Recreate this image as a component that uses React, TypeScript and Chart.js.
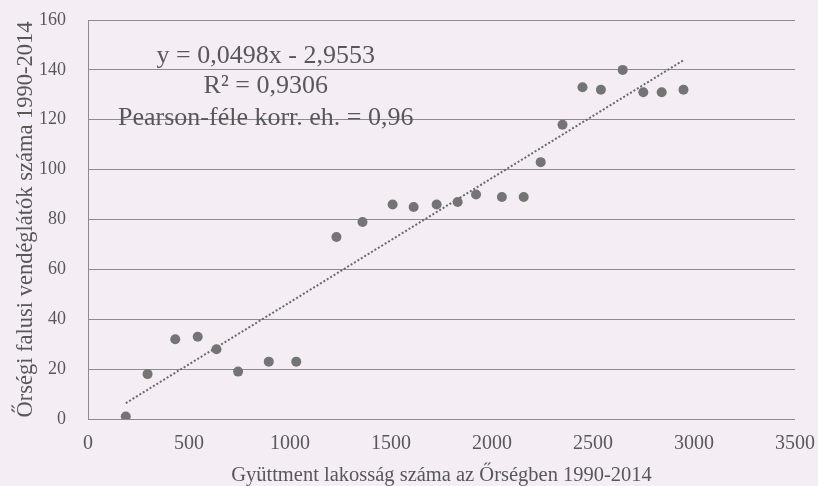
import React, { useEffect, useRef } from "react";
import { Chart, registerables } from "chart.js";

Chart.register(...registerables);

// Data (x: incoming population, y: rural hosts)
const xValues = [187, 295, 432, 543, 636, 743, 895, 1031, 1230, 1359, 1508, 1612, 1726, 1830, 1921, 2049, 2157, 2241, 2349, 2448, 2539, 2647, 2749, 2840, 2948];
const yValues = [1, 18, 32, 33, 28, 19, 23, 23, 73, 79, 86, 85, 86, 87, 90, 89, 89, 103, 118, 133, 132, 140, 131, 131, 132];

// Linear trend as printed on the chart
const TREND_SLOPE = 0.0498;
const TREND_INTERCEPT = -2.9553;

const xTicks = [0, 500, 1000, 1500, 2000, 2500, 3000, 3500];
const yTicks = [0, 20, 40, 60, 80, 100, 120, 140, 160];

const annotationLines = ["y = 0,0498x - 2,9553", "R² = 0,9306", "Pearson-féle korr. eh. = 0,96"];
const annotationX = 880;
const annotationY = [145.5, 133.5, 120.5];

const xTitle = "Gyüttment lakosság száma az Őrségben 1990-2014";
const yTitle = "Őrségi falusi vendéglátók száma 1990-2014";

const BG = "#f4eef4";
const TEXT = "#585858";
const GRID = "#8c8c8c";
const SERIF = "'Liberation Serif', 'DejaVu Serif', serif";

export default function App() {
  const ref = useRef<HTMLCanvasElement | null>(null);

  useEffect(() => {
    document.body.style.margin = "0";
    document.body.style.background = BG;
    const canvas = ref.current;
    if (!canvas) return;

    const trendX = [Math.min(...xValues), Math.max(...xValues)];
    const trendData = trendX.map((x) => ({ x, y: TREND_SLOPE * x + TREND_INTERCEPT }));

    const bgPlugin = {
      id: "bg",
      beforeDraw(chart: any) {
        const c = chart.ctx;
        c.save();
        c.fillStyle = BG;
        c.fillRect(0, 0, chart.width, chart.height);
        c.restore();
      },
    };

    const annotationPlugin = {
      id: "annot",
      afterDatasetsDraw(chart: any) {
        const c = chart.ctx;
        const xs = chart.scales.x;
        const ys = chart.scales.y;
        c.save();
        c.fillStyle = TEXT;
        c.font = `26px ${SERIF}`;
        c.textAlign = "center";
        c.textBaseline = "middle";
        annotationLines.forEach((t, i) => {
          c.fillText(t, xs.getPixelForValue(annotationX), ys.getPixelForValue(annotationY[i]));
        });
        c.restore();
      },
    };

    const chart = new Chart(canvas, {
      type: "scatter",
      data: {
        datasets: [
          {
            label: "trend",
            type: "line",
            data: trendData,
            borderColor: "#6a6a6a",
            borderWidth: 2,
            borderDash: [2, 2],
            pointRadius: 0,
            fill: false,
            order: 2,
          } as any,
          {
            label: "points",
            data: xValues.map((x, i) => ({ x, y: yValues[i] })),
            backgroundColor: "#747474",
            borderWidth: 0,
            pointRadius: 5,
            order: 1,
          },
        ],
      },
      options: {
        responsive: false,
        animation: false,
        devicePixelRatio: 1,
        layout: { padding: { top: 20, right: 23, left: 0, bottom: 0 } },
        plugins: { legend: { display: false }, tooltip: { enabled: false } },
        scales: {
          x: {
            type: "linear",
            min: 0,
            max: 3500,
            afterBuildTicks(scale: any) {
              scale.ticks = xTicks.map((v) => ({ value: v }));
            },
            afterFit(scale: any) {
              scale.height = 67;
            },
            grid: { display: true, color: "rgba(0,0,0,0)", drawTicks: true, tickLength: 13, tickColor: "rgba(0,0,0,0)" },
            border: { display: false },
            ticks: {
              color: TEXT,
              font: { family: SERIF, size: 20 },
              padding: 0,
              maxRotation: 0,
              callback: (v: any) => String(v),
            },
            title: {
              display: true,
              text: xTitle,
              color: TEXT,
              font: { family: SERIF, size: 20.5, lineHeight: 1 },
              padding: { top: 0, bottom: 0 },
            },
          },
          y: {
            type: "linear",
            min: 0,
            max: 160,
            afterBuildTicks(scale: any) {
              scale.ticks = yTicks.map((v) => ({ value: v }));
            },
            afterFit(scale: any) {
              scale.width = 88;
            },
            grid: { color: GRID, lineWidth: 1, drawTicks: true, tickLength: 22, tickColor: "rgba(0,0,0,0)" },
            border: { display: true, color: GRID, width: 1 },
            ticks: {
              color: TEXT,
              font: { family: SERIF, size: 18 },
              padding: 0,
              callback: (v: any) => String(v),
            },
            title: {
              display: true,
              text: yTitle,
              color: TEXT,
              font: { family: SERIF, size: 22.5, lineHeight: 1 },
              padding: { top: 15, bottom: 0 },
            },
          },
        },
      },
      plugins: [bgPlugin, annotationPlugin],
    });

    return () => chart.destroy();
  }, []);

  return (
    <div style={{ position: "fixed", left: 0, top: 0, width: 818, height: 486, background: BG }}>
      <canvas ref={ref} width={818} height={486} />
    </div>
  );
}
